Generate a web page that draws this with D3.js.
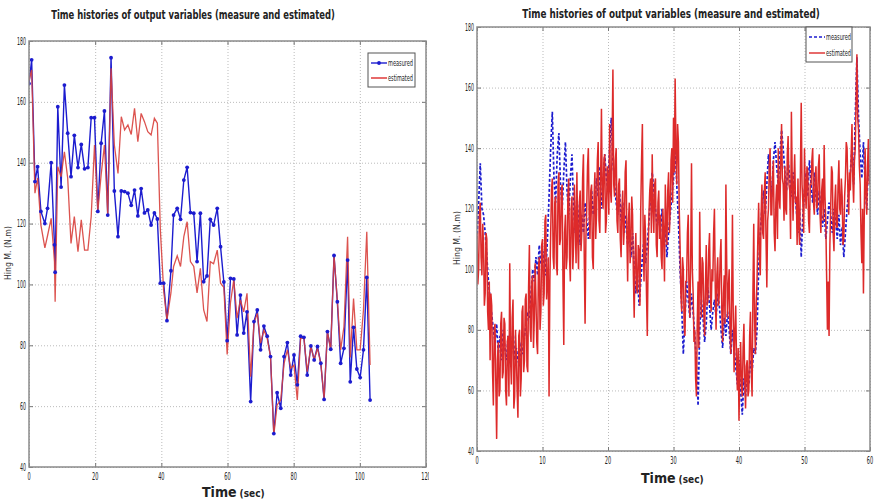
<!DOCTYPE html>
<html><head><meta charset="utf-8">
<script src="https://cdn.jsdelivr.net/npm/d3@7"></script>
<style>
body{margin:0;background:#fff;}
svg{display:block;font-family:"Liberation Sans Narrow","DejaVu Sans Condensed","Liberation Sans",sans-serif;}
</style></head>
<body>
<svg id="c" width="877" height="503"></svg>
<script>
// ---------- DATA ----------
const chartTitle = "Time histories of output variables (measure and estimated)";
const yLabel = "Hing M. (N.m)";
const seriesNames = ["measured", "estimated"];
const yTicks = [40, 60, 80, 100, 120, 140, 160, 180];
const leftXTicks = [0, 20, 40, 60, 80, 100, 120];
const rightXTicks = [0, 10, 20, 30, 40, 50, 60];

const leftTime = [0,0.8,1.8,2.6,3.6,4.8,5.6,6.7,7.7,7.9,8.7,9.7,10.7,11.7,12.7,13.7,14.8,15.8,16.8,17.8,18.8,19.8,20.8,21.8,22.8,23.8,24.8,25.8,26.9,27.9,28.9,29.9,30.9,31.9,32.9,33.9,34.9,35.9,36.9,37.9,38.8,39.7,40.7,41.7,42.9,43.7,44.8,45.8,46.8,47.8,48.8,49.8,50.8,51.8,52.8,53.8,54.8,55.8,56.9,57.9,58.9,59.9,60.9,61.9,62.9,63.9,64.9,65.9,67,68,69,70,71,72,73,74,75,76.1,77.1,78.1,79.1,80.1,81.1,82.1,83.1,84.1,85.2,86.2,87.2,88.2,89.2,90.2,91.2,92.2,93.2,94.2,95.2,96.3,97.1,98.1,99.1,100.1,101.1,102.1,103.1];
const leftMeasured = [166,173.8,133.8,138.7,124,120,125,140,113,104,158.4,132,165.5,149.7,135.4,149,138.4,146,138,138.4,154.8,154.8,124,146.4,157,122.8,174.5,130.7,115.7,130.7,130.5,130,126,131,122.5,131.5,123.5,124.5,119.5,123.5,121.5,100.4,100.4,88.1,104.5,122.8,125,121.4,134.3,138.5,123.6,123.4,107.5,123.4,100.9,102.8,121.4,119.5,125,112.4,100.8,81.5,102,101.8,83.4,96.5,84,91,61.5,87.8,91.6,78.5,86.3,83,76.3,51,64.4,59.3,76.3,80.9,70.2,76.8,67,83,82.6,70.2,79.8,75.2,79.6,74.1,62.2,84.5,78.7,109.5,94.3,74.1,79,108,68,85.9,72.2,69.4,78.5,102.3,62];
const leftEstimated = [167,170.5,130,135,119.5,112,116,121.7,107.5,94.3,138.7,135.4,143.6,134.9,113.5,122.3,110.8,121.2,111.3,111.3,122.3,145.8,124,136,145.8,122.8,171,145.8,136.5,155.1,150.8,152.4,149.3,157.9,146.9,156.2,153.5,150.2,149.1,154.6,153,118,98,88.3,97.2,105.9,109.4,105.9,115.7,120.6,107.5,105.9,97.2,105.3,91.6,87.8,107.5,106.8,111.3,100.4,99,77,94,101.5,88.9,94.9,91,97.1,69.7,87.2,90.5,80.7,85,82.3,76.3,50.5,60.4,62,74.1,78.5,72.5,73.5,62,82.3,82.3,71.3,79.6,75.2,79,74.1,62.5,84.5,78.5,109.5,94.8,78.5,86.1,115.7,76,95.4,78.5,78.5,91.6,117.3,73.5];

// right panel: measured every 0.25 s, estimated every 0.125 s, 0..60 s
const rightMeasStep = 0.25;
const rightEstStep = 0.125;
const rightMeasured = [
110,122,135,120, 118,112,104,96, 90,85,80,76, 82,72,78,70, 80,74,70,78,
76,72,80,70, 74,70,68,76, 72,78,82,86, 84,92,100,96, 104,98,108,102,
100,106,98,110, 124,140,152,130, 122,138,145,128, 120,132,142,126, 118,130,138,120,
112,124,116,108, 118,112,122,116, 110,120,126,118, 122,130,124,134, 120,128,138,130,
126,140,150,136, 128,122,118,126, 116,122,112,118, 108,114,104,112, 100,92,98,88,
96,104,110,102, 108,116,124,132, 126,120,114,118, 112,120,108,114, 104,112,118,124,
130,140,128,116, 100,88,72,84, 96,90,84,92, 86,78,70,55, 80,90,84,76,
82,94,88,80, 86,90,84,92, 88,80,74,84, 78,86,80,72, 80,74,68,62,
70,60,52,64, 58,68,62,70, 66,74,72,80, 100,112,120,126, 118,128,138,130,
124,136,142,134, 128,138,146,140, 132,126,136,130, 124,132,126,120, 112,120,104,118,
126,132,124,136, 128,122,132,124, 118,126,120,114, 120,110,116,122, 118,112,120,116,
110,118,108,114, 104,112,120,126, 132,140,128,150, 170,150,138,130, 142,128,120,136,
128];
const rightEstimated = [
112,95,100,118,122,104,98,115, 108,88,92,112,110,86,80,96, 70,92,88,66,55,80,82,62,
44,70,76,58,60,82,86,64, 66,84,82,60,55,76,78,58, 102,70,62,84,90,54,58,80,
72,60,51,78,80,58,64,86, 88,66,70,90,92,68,66,94, 108,80,76,96,98,74,84,102,
90,76,72,100,104,80,86,108, 110,88,92,116,118,90,96,104, 58,96,112,126,130,104,100,122,
124,102,98,128,132,108,110,126, 128,96,75,112,118,100,104,124, 130,104,96,120,124,100,108,128,
116,102,132,110,100,122,126,106, 112,130,138,104,82,110,120,134, 140,118,110,126,128,104,100,124,
132,110,118,136,142,116,112,130, 153,124,120,136,138,112,116,134, 130,118,148,126,122,142,166,128,
124,136,140,116,112,128,130,110, 104,120,126,108,114,132,136,112, 96,116,122,102,108,124,118,98,
84,104,112,94,92,108,106,88, 120,136,148,110,96,118,110,92, 78,104,118,126,130,112,138,120,
112,128,130,108,104,122,126,110, 118,104,100,120,112,96,128,116, 108,126,132,112,120,136,140,122,
150,132,163,140,128,148,142,120, 108,92,86,104,100,82,78,96, 96,112,118,90,84,104,135,100,
92,76,80,64,58,82,96,74, 119,96,84,104,102,86,78,94, 108,88,90,106,112,92,86,100,
96,112,120,94,80,98,104,88, 92,104,110,86,76,92,98,82, 128,102,84,94,100,80,72,90,
118,84,66,80,88,70,60,74, 50,66,76,62,58,74,82,64, 54,68,70,58,60,78,86,66,
58,92,115,84,72,88,96,110, 122,104,98,118,128,112,110,126, 132,110,94,116,120,134,140,118,
118,130,136,112,106,122,128,110, 140,124,120,136,148,130,128,116, 134,120,118,138,144,128,126,110,
152,130,116,128,138,122,124,108, 130,114,108,132,155,128,122,112, 140,126,120,134,132,116,112,128,
128,136,140,122,118,130,134,120, 122,134,138,118,112,126,130,116, 141,124,116,98,80,96,78,108,
120,134,132,112,106,122,128,114, 114,128,136,120,118,130,124,108, 110,124,130,142,140,126,118,132,
126,138,148,130,122,136,140,156, 171,150,146,134,128,112,102,120, 92,118,140,126,118,134,143,128,
130];
const rightMeasTime = rightMeasured.map((_, i) => i * rightMeasStep);
const rightEstTime = rightEstimated.map((_, i) => i * rightEstStep);

// ---------- DRAW ----------
const svg = d3.select("#c");
const blue = "#1c1ccf", red = "#dd2a2a";

function panel(cfg) {
  const g = svg.append("g");
  const x = d3.scaleLinear().domain(cfg.xDomain).range([cfg.x0, cfg.x1]);
  const y = d3.scaleLinear().domain([40, 180]).range([cfg.y1, cfg.y0]);
  const W = cfg.x1 - cfg.x0, H = cfg.y1 - cfg.y0;
  const clipId = "clip" + cfg.id;
  svg.append("clipPath").attr("id", clipId).append("rect")
    .attr("x", cfg.x0).attr("y", cfg.y0).attr("width", W).attr("height", H);
  const panelClip = "pclip" + cfg.id;
  svg.append("clipPath").attr("id", panelClip).append("rect")
    .attr("x", cfg.clipL).attr("y", 0).attr("width", cfg.clipR - cfg.clipL).attr("height", 503);
  const gc = g.append("g").attr("clip-path", `url(#${panelClip})`);

  // grid
  gc.append("g").attr("transform", `translate(0,${cfg.y1})`)
    .call(d3.axisBottom(x).tickValues(cfg.xTicks).tickSize(-H).tickFormat(""))
    .call(s => { s.select(".domain").remove(); s.selectAll("line").attr("stroke", "#bbb").attr("stroke-dasharray", "1,2"); });
  gc.append("g").attr("transform", `translate(${cfg.x0},0)`)
    .call(d3.axisLeft(y).tickValues(yTicks).tickSize(-W).tickFormat(""))
    .call(s => { s.select(".domain").remove(); s.selectAll("line").attr("stroke", "#bbb").attr("stroke-dasharray", "1,2"); });

  // inward tick marks on all sides
  const tk = 4;
  const tickStyle = s => { s.select(".domain").remove(); s.selectAll("line").attr("stroke", "#777"); };
  gc.append("g").attr("transform", `translate(0,${cfg.y1})`)
    .call(d3.axisBottom(x).tickValues(cfg.xTicks).tickSize(-tk).tickFormat("")).call(tickStyle);
  gc.append("g").attr("transform", `translate(0,${cfg.y0})`)
    .call(d3.axisTop(x).tickValues(cfg.xTicks).tickSize(-tk).tickFormat("")).call(tickStyle);
  gc.append("g").attr("transform", `translate(${cfg.x0},0)`)
    .call(d3.axisLeft(y).tickValues(yTicks).tickSize(-tk).tickFormat("")).call(tickStyle);
  gc.append("g").attr("transform", `translate(${cfg.x1},0)`)
    .call(d3.axisRight(y).tickValues(yTicks).tickSize(-tk).tickFormat("")).call(tickStyle);

  // lines
  const line = d3.line().x(d => x(d[0])).y(d => y(d[1]));
  const mData = cfg.mTime.map((t, i) => [t, cfg.measured[i]]);
  const eData = cfg.eTime.map((t, i) => [t, cfg.estimated[i]]);
  const lg = gc.append("g").attr("clip-path", `url(#${clipId})`);
  lg.append("path").datum(mData).attr("d", line).attr("fill", "none")
    .attr("stroke", blue).attr("stroke-width", cfg.markers ? 1.4 : 1.7)
    .attr("stroke-dasharray", cfg.markers ? null : "3,2");
  lg.append("path").datum(eData).attr("d", line).attr("fill", "none")
    .attr("stroke", cfg.markers ? "#d8403c" : red).attr("stroke-width", cfg.markers ? 1.3 : 1.5)
    .attr("stroke-opacity", cfg.markers ? 0.9 : 1);
  if (cfg.markers) {
    lg.selectAll("circle.m").data(mData).join("circle").attr("class", "m")
      .attr("cx", d => x(d[0])).attr("cy", d => y(d[1])).attr("r", 1.9).attr("fill", blue);
  }

  // frame
  gc.append("rect").attr("x", cfg.x0).attr("y", cfg.y0).attr("width", W).attr("height", H)
    .attr("fill", "none").attr("stroke", "#8a8a8a").attr("stroke-width", 1.5);

  // tick labels
  gc.selectAll("text.yt").data(yTicks).join("text").attr("class", "yt")
    .attr("x", cfg.x0 - 3).attr("y", d => y(d) + 3.5).attr("text-anchor", "end")
    .attr("font-size", 10).attr("fill", "#222")
    .attr("textLength", d => String(d).length * 3.0).attr("lengthAdjust", "spacingAndGlyphs")
    .text(d => d);
  gc.selectAll("text.xt").data(cfg.xTicks).join("text").attr("class", "xt")
    .attr("x", d => x(d)).attr("y", cfg.y1 + 13).attr("text-anchor", "middle")
    .attr("font-size", 10).attr("fill", "#222")
    .attr("textLength", d => String(d).length * 3.2).attr("lengthAdjust", "spacingAndGlyphs")
    .text(d => d);

  // title (horizontally compressed with a transform so its box is exact)
  const tt = g.append("text").attr("x", 0).attr("y", 0).attr("text-anchor", "middle")
    .attr("font-size", 13).attr("font-weight", "bold").attr("fill", "#222")
    .text(chartTitle);
  const natW = tt.node().getComputedTextLength() || cfg.titleW;
  tt.attr("transform", `translate(${cfg.titleX},${cfg.titleY}) scale(${cfg.titleW / natW},1)`);

  // x label
  const xl = g.append("text").attr("x", cfg.xlabX).attr("y", cfg.xlabY).attr("fill", "#222").attr("font-weight", "bold");
  xl.append("tspan").attr("font-size", 14).text("Time");
  xl.append("tspan").attr("font-size", 10).attr("dx", 3).text("(sec)");

  // y label
  g.append("text").attr("transform", `translate(${cfg.ylabX},${cfg.ylabY}) rotate(-90)`)
    .attr("text-anchor", "middle").attr("font-size", 9).attr("fill", "#333")
    .attr("textLength", 54).attr("lengthAdjust", "spacingAndGlyphs")
    .text(yLabel);

  // legend
  const L = cfg.legend;
  g.append("rect").attr("x", L.x).attr("y", L.y).attr("width", L.w).attr("height", L.h)
    .attr("fill", "#fff").attr("stroke", "#555").attr("stroke-width", 1);
  const rows = [
    { name: seriesNames[0], color: blue, dash: cfg.markers ? null : "3,2", marker: cfg.markers },
    { name: seriesNames[1], color: red, dash: null, marker: false }
  ];
  rows.forEach((r, i) => {
    const yy = L.y + L.row0 + i * L.dy;
    g.append("line").attr("x1", L.x + 3).attr("x2", L.x + 19).attr("y1", yy).attr("y2", yy)
      .attr("stroke", r.color).attr("stroke-width", 1.4).attr("stroke-dasharray", r.dash);
    if (r.marker) g.append("circle").attr("cx", L.x + 11).attr("cy", yy).attr("r", 1.9).attr("fill", r.color);
    g.append("text").attr("x", L.x + 20).attr("y", yy + 3).attr("font-size", 8).attr("fill", "#222")
      .attr("textLength", 25).attr("lengthAdjust", "spacingAndGlyphs").text(r.name);
  });
}

panel({
  id: "L", x0: 29, x1: 426, y0: 41, y1: 467, xDomain: [0, 120], xTicks: leftXTicks,
  clipL: 0, clipR: 429,
  mTime: leftTime, eTime: leftTime, measured: leftMeasured, estimated: leftEstimated, markers: true,
  titleX: 193, titleY: 19, titleW: 284,
  xlabX: 202, xlabY: 497, ylabX: 11, ylabY: 253,
  legend: { x: 368, y: 53, w: 47, h: 34, row0: 10, dy: 15 }
});
panel({
  id: "R", x0: 477, x1: 870, y0: 27, y1: 451, xDomain: [0, 60], xTicks: rightXTicks,
  clipL: 436, clipR: 877,
  mTime: rightMeasTime, eTime: rightEstTime, measured: rightMeasured, estimated: rightEstimated, markers: false,
  titleX: 671, titleY: 18, titleW: 298,
  xlabX: 641, xlabY: 483, ylabX: 460, ylabY: 238,
  legend: { x: 806, y: 27, w: 46, h: 35, row0: 10, dy: 16 }
});
</script>
</body></html>
